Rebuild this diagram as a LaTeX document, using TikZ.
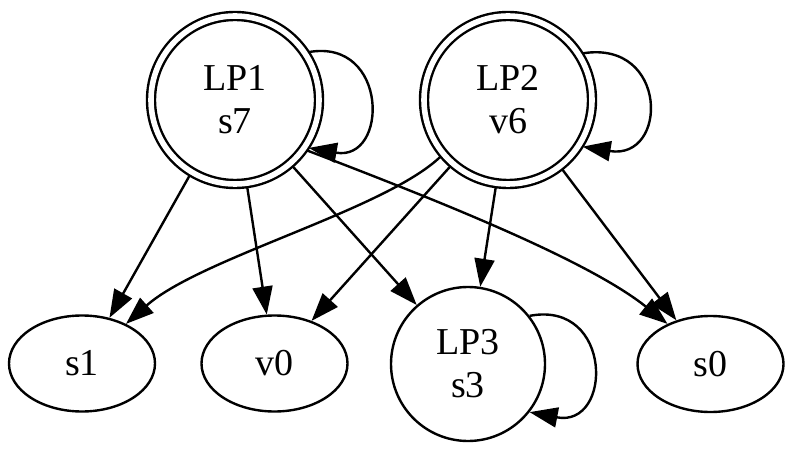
\documentclass[tikz,border=0pt]{standalone}
\usepackage{fontspec}
\setmainfont{Liberation Serif}
\usetikzlibrary{shapes.geometric,arrows.meta}
\begin{document}
\begin{tikzpicture}[x=1pt,y=-1pt,
  every node/.style={font=\fontsize{38pt}{43pt}\selectfont, align=center, inner sep=0pt},
  lpstate/.style={circle, draw, line width=2.4pt, double, double distance=5.6pt,
                  minimum size=168pt, outer sep=4pt},
  plainstate/.style={circle, draw, line width=2.4pt, minimum size=154pt},
  leaf/.style={ellipse, draw, line width=2.4pt, minimum width=146pt, minimum height=96pt},
  edge/.style={line width=2.4pt, -{Triangle[length=28pt,width=20pt]}}
]
\useasboundingbox (0,0) rectangle (794,454);

% states
\node[lpstate] (LP1) at (235,100) {LP1\\s7};
\node[lpstate] (LP2) at (508,100) {LP2\\v6};
\node[leaf] (s1) at (82,363.5) {s1};
\node[leaf] (v0) at (274.5,363.5) {v0};
\node[plainstate] (LP3) at (468,364) {LP3\\s3};
\node[leaf] (s0) at (710.5,364) {s0};

% self loops
\draw[edge] (LP1.33) .. controls +(80,-14) and +(80,14) .. (LP1.-33);
\draw[edge] (LP2.32) .. controls +(86,-14) and +(86,14) .. (LP2.-32);
\draw[edge] (LP3.38) .. controls +(83.5,-16) and +(83.5,16) .. (LP3.-38);

% transitions from LP1
\draw[edge] (LP1.-121) -- (s1.59);
\draw[edge] (LP1.-82) -- (v0.99);
\draw[edge] (LP1.-49) -- (LP3.131);
\draw[edge] (LP1.-35) .. controls (450,205) and (590,262) .. (s0.137);

% transitions from LP2
\draw[edge] (LP2.-140) .. controls (385,210) and (200,258) .. (s1.42);
\draw[edge] (LP2.-131) -- (v0.49);
\draw[edge] (LP2.-98) -- (LP3.81);
\draw[edge] (LP2.-52) -- (s0.128);
\end{tikzpicture}
\end{document}
